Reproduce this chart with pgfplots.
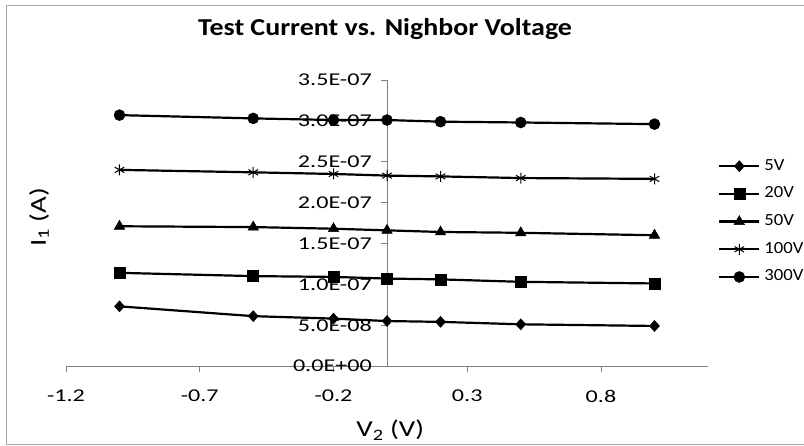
\documentclass[border=0pt]{standalone}
\usepackage{pgfplots}
\pgfplotsset{compat=1.18}
\usepackage{fontspec}
\setmainfont{Carlito}
\newfontfamily\titlefont[FakeStretch=1.15]{Carlito}
\newfontfamily\tickfont[FakeStretch=1.34]{Carlito}
\newfontfamily\labelfont[FakeStretch=1.27]{Carlito}
\newfontfamily\legfont[FakeStretch=1.1]{Carlito}
\begin{document}
\begin{tikzpicture}
\begin{axis}[
  axis lines=middle,
  scale only axis, width=642pt, height=286pt,
  xmin=-1.2, xmax=1.2, ymin=0, ymax=3.5e-7,
  enlargelimits=false, clip=false, scaled y ticks=false, scaled x ticks=false,
  axis line style={-, draw=gray, line width=0.8pt},
  tick style={draw=gray, line width=0.8pt},
  tick align=outside, major tick length=6pt,
  xtick={-1.2,-0.7,-0.2,0.3,0.8},
  xticklabels={-1.2,-0.7,-0.2,0.3,0.8},
  ytick={0,5e-8,1e-7,1.5e-7,2e-7,2.5e-7,3e-7,3.5e-7},
  yticklabels={0.0E+00,5.0E-08,1.0E-07,1.5E-07,2.0E-07,2.5E-07,3.0E-07,3.5E-07},
  hide obscured x ticks=false, hide obscured y ticks=false,
  xticklabel style={anchor=center, yshift=-24pt, font=\tickfont\fontsize{18}{19}\selectfont},
  yticklabel style={anchor=east, inner sep=0pt, xshift=-9pt, font=\tickfont\fontsize{18}{19}\selectfont},
  xlabel={V\textsubscript{2} (V)}, ylabel={I\textsubscript{1} (A)},
  every axis x label/.style={at={(rel axis cs:0.505,-0.224)}, anchor=center, font=\labelfont\fontsize{22.8}{24}\selectfont},
  every axis y label/.style={at={(rel axis cs:-0.042,0.52)}, rotate=90, anchor=center, font=\labelfont\fontsize{22.8}{24}\selectfont},
  title={Test Current vs. Nighbor Voltage},
  title style={at={(rel axis cs:0.497,1.134)}, anchor=base, yshift=0pt, font=\titlefont\bfseries\fontsize{24.3}{25}\selectfont},
  legend style={draw=none, fill=none, inner sep=0pt, at={(rel axis cs:1.0156,0.7238)}, anchor=north west,
    font=\legfont\fontsize{17}{18}\selectfont, row sep=13.7pt,
    nodes={inner sep=0pt, text height=11pt, text depth=3pt, anchor=west},
    /tikz/every odd column/.append style={column sep=4pt}},
  legend cell align=left,
  legend image code/.code={\draw[mark repeat=2,mark phase=2] plot coordinates {(0pt,0pt)(20pt,0pt)(40pt,0pt)};},
]
\addplot[black, line width=2.2pt, mark=diamond*, mark size=5.5pt, mark options={solid, line width=0.5pt, xscale=1.2}] coordinates {(-1,7.3e-8) (-0.5,6.1e-8) (-0.2,5.8e-8) (0,5.5e-8) (0.2,5.4e-8) (0.5,5.1e-8) (1,4.9e-8)};
\addlegendentry{5V}
\addplot[black, line width=2.2pt, mark=square*, mark size=5.5pt, mark options={solid, line width=0.5pt}] coordinates {(-1,11.4e-8) (-0.5,11.0e-8) (-0.2,10.9e-8) (0,10.7e-8) (0.2,10.6e-8) (0.5,10.3e-8) (1,10.1e-8)};
\addlegendentry{20V}
\addplot[black, line width=2.2pt, mark=triangle*, mark size=6pt, mark options={solid, line width=0.5pt}] coordinates {(-1,17.1e-8) (-0.5,17.0e-8) (-0.2,16.8e-8) (0,16.6e-8) (0.2,16.4e-8) (0.5,16.3e-8) (1,16.0e-8)};
\addlegendentry{50V}
\addplot[black, line width=2.2pt, mark=asterisk, mark size=5.5pt, mark options={solid, line width=1pt}] coordinates {(-1,24.0e-8) (-0.5,23.7e-8) (-0.2,23.5e-8) (0,23.3e-8) (0.2,23.2e-8) (0.5,23.0e-8) (1,22.9e-8)};
\addlegendentry{100V}
\addplot[black, line width=2.2pt, mark=*, mark size=5.5pt, mark options={solid, line width=0.5pt}] coordinates {(-1,30.7e-8) (-0.5,30.3e-8) (-0.2,30.1e-8) (0,30.1e-8) (0.2,29.9e-8) (0.5,29.8e-8) (1,29.6e-8)};
\addlegendentry{300V}
\coordinate (bbl) at (rel axis cs:-0.10280,-0.27972);
\coordinate (btr) at (rel axis cs:1.14953,1.27972);
\coordinate (fbl) at (rel axis cs:-0.09190,-0.27273);
\coordinate (ftr) at (rel axis cs:1.1620,1.25874);
\end{axis}
\draw[gray!70, line width=1pt] (fbl) rectangle (ftr);
\pgfresetboundingbox
\path[use as bounding box] (bbl) rectangle (btr);
\end{tikzpicture}
\end{document}
